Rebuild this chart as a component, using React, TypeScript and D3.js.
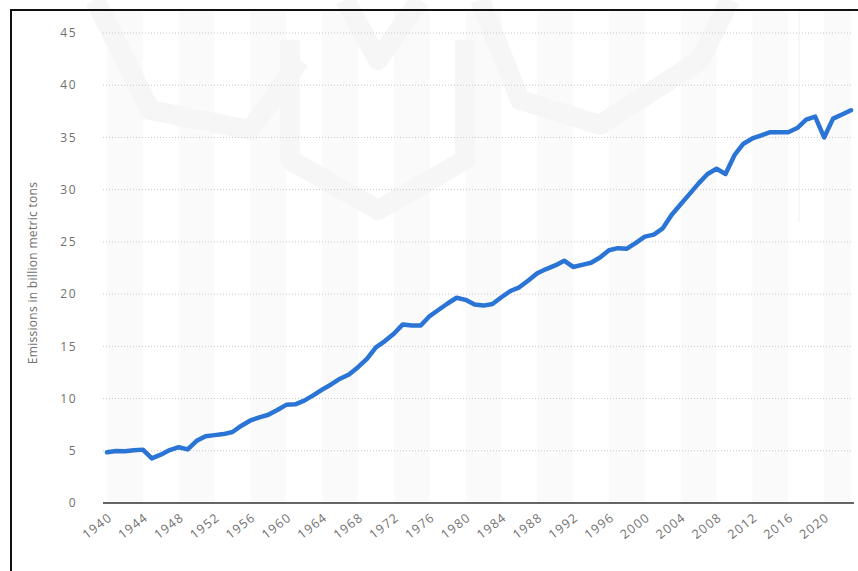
import React from "react";
import * as d3 from "d3";

const years: number[] = [
  1940, 1941, 1942, 1943, 1944, 1945, 1946, 1947, 1948, 1949,
  1950, 1951, 1952, 1953, 1954, 1955, 1956, 1957, 1958, 1959,
  1960, 1961, 1962, 1963, 1964, 1965, 1966, 1967, 1968, 1969,
  1970, 1971, 1972, 1973, 1974, 1975, 1976, 1977, 1978, 1979,
  1980, 1981, 1982, 1983, 1984, 1985, 1986, 1987, 1988, 1989,
  1990, 1991, 1992, 1993, 1994, 1995, 1996, 1997, 1998, 1999,
  2000, 2001, 2002, 2003, 2004, 2005, 2006, 2007, 2008, 2009,
  2010, 2011, 2012, 2013, 2014, 2015, 2016, 2017, 2018, 2019,
  2020, 2021, 2022, 2023,
];

const emissions: number[] = [
  4.85, 4.97, 4.95, 5.04, 5.11, 4.27, 4.63, 5.07, 5.34, 5.13,
  5.95, 6.4, 6.5, 6.6, 6.8, 7.4, 7.9, 8.2, 8.45, 8.9,
  9.4, 9.45, 9.8, 10.3, 10.85, 11.35, 11.9, 12.3, 13.0, 13.8,
  14.9, 15.5, 16.2, 17.1, 17.0, 17.0, 17.9, 18.5, 19.1, 19.65,
  19.45, 19.0, 18.9, 19.05, 19.7, 20.3, 20.65, 21.3, 22.0, 22.4,
  22.75, 23.2, 22.6, 22.8, 23.0, 23.5, 24.2, 24.4, 24.35, 24.9,
  25.5, 25.7, 26.3, 27.6, 28.6, 29.6, 30.6, 31.5, 32.0, 31.5,
  33.3, 34.4, 34.9, 35.2, 35.5, 35.5, 35.5, 35.9, 36.7, 37.0,
  35.0, 36.8, 37.2, 37.6,
];

const yTicks: number[] = [0, 5, 10, 15, 20, 25, 30, 35, 40, 45];
const xTickYears: number[] = [
  1940, 1944, 1948, 1952, 1956, 1960, 1964, 1968, 1972, 1976, 1980,
  1984, 1988, 1992, 1996, 2000, 2004, 2008, 2012, 2016, 2020,
];
const yAxisTitle = "Emissions in billion metric tons";

const W = 858;
const H = 571;
const FONT = "'Open Sans', 'Noto Sans', sans-serif";

export default function App() {
  const x = d3.scaleLinear().domain([1940, 2023]).range([107, 851]);
  const y = d3.scaleLinear().domain([0, 45]).range([503, 33]);

  const data = years.map((yr, i) => ({ yr, v: emissions[i] }));
  const line = d3
    .line<{ yr: number; v: number }>()
    .x((d) => x(d.yr))
    .y((d) => y(d.v));

  const bands: number[] = [];
  for (let b = 1940; b < 2023; b += 8) bands.push(b);

  return (
    <svg
      width={W}
      height={H}
      style={{ position: "absolute", left: 0, top: 0, background: "#fff" }}
      fontFamily={FONT}
    >
      <rect x={0} y={0} width={W} height={H} fill="#fff" />
      {bands.map((b) => (
        <rect
          key={b}
          x={x(b)}
          y={10}
          width={x(Math.min(b + 4, 2023)) - x(b)}
          height={y(0) - 10}
          fill="#fafafa"
        />
      ))}
      {/* faint watermark shapes */}
      <g fill="none" stroke="#f6f6f6" strokeWidth={20} strokeLinejoin="round">
        <path d="M95,0 L150,110 L250,130 L300,60" />
        <path d="M290,40 L290,160 L378,210 L465,160 L465,40" />
        <path d="M345,0 L378,60 L420,0" />
        <path d="M480,0 L520,100 L600,125 L700,60 L730,0" />
      </g>
      <line x1={799} x2={799} y1={10} y2={222} stroke="#efefef" strokeWidth={1} />
      {yTicks.map((t) => (
        <g key={t}>
          {t > 0 && (
            <line
              x1={103}
              x2={853}
              y1={y(t)}
              y2={y(t)}
              stroke="#c8c8c8"
              strokeWidth={1}
              strokeDasharray="1,2"
            />
          )}
          <text
            x={77}
            y={y(t)}
            dy="0.35em"
            textAnchor="end"
            fontSize={12}
            letterSpacing={1.5}
            fill="#707070"
          >
            {t}
          </text>
        </g>
      ))}
      <line x1={103} x2={854} y1={y(0)} y2={y(0)} stroke="#333" strokeWidth={1.5} />
      {xTickYears.map((t) => (
        <text
          key={t}
          transform={`translate(${x(t) + 6},${y(0) + 16}) rotate(-38)`}
          textAnchor="end"
          fontSize={12.5}
          letterSpacing={1.2}
          fill="#707070"
        >
          {t}
        </text>
      ))}
      <text
        transform={`translate(37,273) rotate(-90)`}
        textAnchor="middle"
        fontSize={12}
        letterSpacing={0.3}
        fill="#707070"
      >
        {yAxisTitle}
      </text>
      <path
        d={line(data) || ""}
        fill="none"
        stroke="#2a74d6"
        strokeWidth={4.5}
        strokeLinejoin="round"
        strokeLinecap="round"
      />
      <line x1={11} x2={W} y1={10} y2={10} stroke="#111" strokeWidth={2} />
      <line x1={11} x2={11} y1={9} y2={H} stroke="#111" strokeWidth={2} />
    </svg>
  );
}
